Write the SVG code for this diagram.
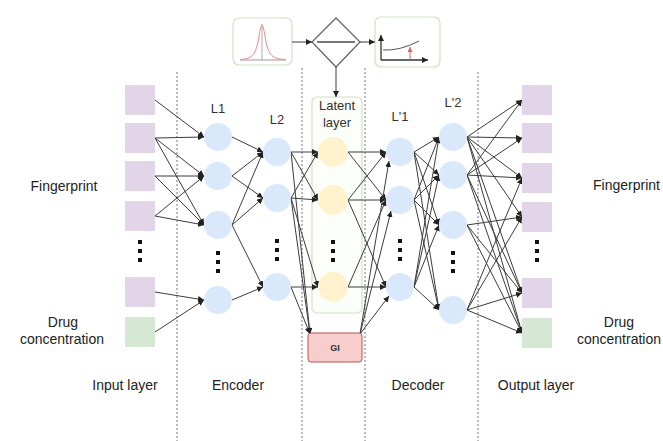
<svg xmlns="http://www.w3.org/2000/svg" width="663" height="441" viewBox="0 0 663 441">
  <style>
    .lbl { font-family: "Liberation Sans", Arial, sans-serif; font-size: 14px; fill: #222; }
    .sm { font-family: "Liberation Sans", Arial, sans-serif; font-size: 13px; fill: #333; }
    .sep { stroke: #777; stroke-width: 1; stroke-dasharray: 2 2; fill: none; }
    .fp { fill: #e1d5e7; }
    .dc { fill: #d5e8d4; }
    .enc { fill: #dae8fc; }
    .lat { fill: #fff2cc; }
    .dot { fill: #111; }
    .frame { fill: #fff; stroke: #cfe2c4; stroke-width: 1.2; }
    #connectors line, #connectors path { stroke: #3c3c3c; stroke-width: 1; fill: none; marker-end: url(#arr); }
  </style>
  <defs>
    <marker id="arr" markerUnits="userSpaceOnUse" markerWidth="6" markerHeight="6" refX="6" refY="3" orient="auto">
      <path d="M0,0 L6,3 L0,6 z" fill="#222"/>
    </marker>
    <marker id="arrR" markerUnits="userSpaceOnUse" markerWidth="5" markerHeight="5" refX="5" refY="2.5" orient="auto">
      <path d="M0,0 L5,2.5 L0,5 z" fill="#e06060"/>
    </marker>
  </defs>

  <rect width="663" height="441" fill="#fff"/>

  <!-- column separators -->
  <g id="separators">
    <line class="sep" x1="177" y1="72" x2="177" y2="441"/>
    <line class="sep" x1="302" y1="68" x2="302" y2="441"/>
    <line class="sep" x1="365" y1="68" x2="365" y2="441"/>
    <line class="sep" x1="478" y1="72" x2="478" y2="441"/>
  </g>

  <!-- sampling block -->
  <g id="prior">
    <rect class="frame" x="233" y="18" width="59" height="47" rx="6"/>
    <line x1="240" y1="60" x2="286" y2="60" stroke="#999" stroke-width="1"/>
    <line x1="262" y1="24" x2="262" y2="60" stroke="#999" stroke-width="0.8"/>
    <path d="M240,59.5 C252,59 255,55 258,42 C260,30 261,25 262,25 C263,25 264,30 266,42 C269,55 272,59 285,59.5" fill="none" stroke="#ea8a8a" stroke-width="1"/>
  </g>
  <g id="sampler">
    <polygon points="336,18 360,42 336,67 312,42" fill="#fff" stroke="#666" stroke-width="1.3"/>
    <line x1="317" y1="42" x2="355" y2="42" stroke="#777" stroke-width="2"/>
  </g>
  <g id="loss">
    <rect class="frame" x="375" y="17" width="65" height="50" rx="6"/>
    <line x1="381" y1="60" x2="381" y2="35" stroke="#333" stroke-width="1.3" marker-end="url(#arr)"/>
    <line x1="381" y1="60" x2="428" y2="60" stroke="#333" stroke-width="1.3" marker-end="url(#arr)"/>
    <path d="M383,50 Q400,51 419,41" fill="none" stroke="#555" stroke-width="1"/>
    <line x1="410" y1="60" x2="410" y2="47" stroke="#e06060" stroke-width="1" marker-end="url(#arrR)"/>
  </g>

  <!-- latent layer frame -->
  <g id="latent-frame">
    <rect x="312" y="97" width="50" height="216" rx="5" fill="#fcfefa" stroke="#cfe2c4" stroke-width="1.2"/>
    <text class="sm" x="337" y="110" text-anchor="middle">Latent</text>
    <text class="sm" x="337" y="127" text-anchor="middle">layer</text>
  </g>

  <!-- connectors -->
  <g id="connectors">
    <line x1="292" y1="42" x2="312" y2="42"/>
    <line x1="360" y1="42" x2="375" y2="42"/>
    <line x1="336" y1="67" x2="336" y2="97"/>
    <!-- input to L1 -->
    <line x1="155" y1="100" x2="204" y2="137"/>
    <line x1="155" y1="138" x2="204" y2="137"/>
    <line x1="155" y1="138" x2="204" y2="176"/>
    <line x1="155" y1="138" x2="204" y2="225"/>
    <line x1="155" y1="176" x2="204" y2="176"/>
    <line x1="155" y1="176" x2="204" y2="225"/>
    <line x1="155" y1="216" x2="204" y2="176"/>
    <line x1="155" y1="216" x2="204" y2="225"/>
    <line x1="155" y1="292" x2="204" y2="300"/>
    <line x1="155" y1="332" x2="204" y2="300"/>
    <!-- L1 to L2 -->
    <line x1="232" y1="137" x2="263" y2="152"/>
    <line x1="232" y1="176" x2="263" y2="152"/>
    <line x1="232" y1="176" x2="263" y2="198"/>
    <line x1="232" y1="225" x2="263" y2="152"/>
    <line x1="232" y1="225" x2="263" y2="198"/>
    <line x1="232" y1="225" x2="263" y2="287"/>
    <line x1="232" y1="300" x2="263" y2="287"/>
    <!-- L2 to latent -->
    <line x1="291" y1="152" x2="318" y2="152"/>
    <line x1="291" y1="152" x2="318" y2="200"/>
    <line x1="291" y1="198" x2="318" y2="152"/>
    <line x1="291" y1="198" x2="318" y2="200"/>
    <line x1="291" y1="198" x2="318" y2="287"/>
    <line x1="291" y1="287" x2="318" y2="287"/>
    <!-- L2 to GI -->
    <line x1="291" y1="152" x2="310" y2="334"/>
    <line x1="291" y1="198" x2="310" y2="334"/>
    <line x1="291" y1="287" x2="310" y2="334"/>
    <!-- latent to L'1 -->
    <line x1="348" y1="152" x2="386" y2="152"/>
    <line x1="348" y1="152" x2="386" y2="200"/>
    <line x1="348" y1="200" x2="386" y2="152"/>
    <line x1="348" y1="200" x2="386" y2="200"/>
    <line x1="348" y1="200" x2="386" y2="287"/>
    <line x1="348" y1="287" x2="386" y2="200"/>
    <line x1="348" y1="287" x2="386" y2="287"/>
    <!-- GI to L'1 -->
    <line x1="360" y1="334" x2="389" y2="161"/>
    <line x1="360" y1="334" x2="391" y2="211"/>
    <line x1="360" y1="334" x2="389" y2="296"/>
    <!-- L'1 to L'2 -->
    <line x1="414" y1="152" x2="439" y2="137"/>
    <line x1="414" y1="152" x2="439" y2="175"/>
    <line x1="414" y1="152" x2="439" y2="225"/>
    <line x1="414" y1="152" x2="439" y2="310"/>
    <line x1="414" y1="200" x2="439" y2="137"/>
    <line x1="414" y1="200" x2="439" y2="175"/>
    <line x1="414" y1="200" x2="439" y2="225"/>
    <line x1="414" y1="200" x2="439" y2="310"/>
    <line x1="414" y1="287" x2="439" y2="137"/>
    <line x1="414" y1="287" x2="439" y2="175"/>
    <line x1="414" y1="287" x2="439" y2="225"/>
    <line x1="414" y1="287" x2="439" y2="310"/>
    <!-- L'2 to output -->
    <line x1="467" y1="137" x2="522" y2="100"/>
    <line x1="467" y1="137" x2="522" y2="138"/>
    <line x1="467" y1="137" x2="522" y2="178"/>
    <line x1="467" y1="137" x2="522" y2="217"/>
    <line x1="467" y1="137" x2="522" y2="293"/>
    <line x1="467" y1="137" x2="522" y2="333"/>
    <line x1="467" y1="175" x2="522" y2="100"/>
    <line x1="467" y1="175" x2="522" y2="138"/>
    <line x1="467" y1="175" x2="522" y2="178"/>
    <line x1="467" y1="175" x2="522" y2="293"/>
    <line x1="467" y1="175" x2="522" y2="333"/>
    <line x1="467" y1="225" x2="522" y2="217"/>
    <line x1="467" y1="225" x2="522" y2="293"/>
    <line x1="467" y1="225" x2="522" y2="333"/>
    <line x1="467" y1="310" x2="522" y2="178"/>
    <line x1="467" y1="310" x2="522" y2="217"/>
    <line x1="467" y1="310" x2="522" y2="293"/>
    <line x1="467" y1="310" x2="522" y2="333"/>
  </g>

  <!-- input layer -->
  <g id="in1"><rect class="fp" x="125" y="85" width="30" height="30"/></g>
  <g id="in2"><rect class="fp" x="125" y="123" width="30" height="30"/></g>
  <g id="in3"><rect class="fp" x="125" y="161" width="30" height="30"/></g>
  <g id="in4"><rect class="fp" x="125" y="201" width="30" height="30"/></g>
  <g id="in-dots"><rect class="dot" x="138" y="240" width="4" height="4"/><rect class="dot" x="138" y="249" width="4" height="4"/><rect class="dot" x="138" y="258" width="4" height="4"/></g>
  <g id="in5"><rect class="fp" x="125" y="277" width="30" height="30"/></g>
  <g id="in6"><rect class="dc" x="125" y="317" width="30" height="30"/></g>

  <!-- encoder L1 -->
  <g id="l1a"><circle class="enc" cx="218" cy="137" r="14"/></g>
  <g id="l1b"><circle class="enc" cx="218" cy="176" r="14"/></g>
  <g id="l1c"><circle class="enc" cx="218" cy="225" r="14"/></g>
  <g id="l1-dots"><rect class="dot" x="216" y="251" width="4" height="4"/><rect class="dot" x="216" y="260" width="4" height="4"/><rect class="dot" x="216" y="269" width="4" height="4"/></g>
  <g id="l1d"><circle class="enc" cx="218" cy="300" r="14"/></g>

  <!-- encoder L2 -->
  <g id="l2a"><circle class="enc" cx="277" cy="152" r="14"/></g>
  <g id="l2b"><circle class="enc" cx="277" cy="198" r="14"/></g>
  <g id="l2-dots"><rect class="dot" x="275" y="239" width="4" height="4"/><rect class="dot" x="275" y="248" width="4" height="4"/><rect class="dot" x="275" y="257" width="4" height="4"/></g>
  <g id="l2c"><circle class="enc" cx="277" cy="287" r="14"/></g>

  <!-- latent -->
  <g id="za"><circle class="lat" cx="333" cy="152" r="15"/></g>
  <g id="zb"><circle class="lat" cx="333" cy="200" r="15"/></g>
  <g id="z-dots"><rect class="dot" x="331" y="240" width="4" height="4"/><rect class="dot" x="331" y="249" width="4" height="4"/><rect class="dot" x="331" y="258" width="4" height="4"/></g>
  <g id="zc"><circle class="lat" cx="333" cy="287" r="15"/></g>

  <g id="gi">
    <rect x="308" y="333" width="54" height="29" rx="3" fill="#f8cecc" stroke="#b85450" stroke-width="1"/>
    <text x="335" y="351" text-anchor="middle" font-family="Liberation Sans, Arial, sans-serif" font-size="9" font-weight="bold" fill="#333">GI</text>
  </g>

  <!-- decoder L'1 -->
  <g id="d1a"><circle class="enc" cx="400" cy="152" r="14"/></g>
  <g id="d1b"><circle class="enc" cx="400" cy="200" r="14"/></g>
  <g id="d1-dots"><rect class="dot" x="398" y="239" width="4" height="4"/><rect class="dot" x="398" y="248" width="4" height="4"/><rect class="dot" x="398" y="257" width="4" height="4"/></g>
  <g id="d1c"><circle class="enc" cx="400" cy="287" r="14"/></g>

  <!-- decoder L'2 -->
  <g id="d2a"><circle class="enc" cx="453" cy="137" r="14"/></g>
  <g id="d2b"><circle class="enc" cx="453" cy="175" r="14"/></g>
  <g id="d2c"><circle class="enc" cx="453" cy="225" r="14"/></g>
  <g id="d2-dots"><rect class="dot" x="451" y="251" width="4" height="4"/><rect class="dot" x="451" y="260" width="4" height="4"/><rect class="dot" x="451" y="269" width="4" height="4"/></g>
  <g id="d2d"><circle class="enc" cx="453" cy="310" r="14"/></g>

  <!-- output layer -->
  <g id="out1"><rect class="fp" x="522" y="85" width="30" height="30"/></g>
  <g id="out2"><rect class="fp" x="522" y="123" width="30" height="30"/></g>
  <g id="out3"><rect class="fp" x="522" y="163" width="30" height="30"/></g>
  <g id="out4"><rect class="fp" x="522" y="202" width="30" height="30"/></g>
  <g id="out-dots"><rect class="dot" x="535" y="240" width="4" height="4"/><rect class="dot" x="535" y="249" width="4" height="4"/><rect class="dot" x="535" y="258" width="4" height="4"/></g>
  <g id="out5"><rect class="fp" x="522" y="278" width="30" height="30"/></g>
  <g id="out6"><rect class="dc" x="522" y="318" width="30" height="30"/></g>

  <!-- layer titles -->
  <g id="titles">
    <text class="sm" x="218" y="113" text-anchor="middle">L1</text>
    <text class="sm" x="277" y="124" text-anchor="middle">L2</text>
    <text class="sm" x="400" y="121" text-anchor="middle">L'1</text>
    <text class="sm" x="453" y="107" text-anchor="middle">L'2</text>
  </g>

  <!-- side and bottom labels -->
  <g id="labels">
    <text class="lbl" x="64" y="191" text-anchor="middle">Fingerprint</text>
    <text class="lbl" x="63" y="327" text-anchor="middle">Drug</text>
    <text class="lbl" x="62" y="344" text-anchor="middle">concentration</text>
    <text class="lbl" x="593" y="190">Fingerprint</text>
    <text class="lbl" x="619" y="327" text-anchor="middle">Drug</text>
    <text class="lbl" x="619" y="344" text-anchor="middle">concentration</text>
    <text class="lbl" x="125" y="390" text-anchor="middle">Input layer</text>
    <text class="lbl" x="238" y="390" text-anchor="middle">Encoder</text>
    <text class="lbl" x="418" y="390" text-anchor="middle">Decoder</text>
    <text class="lbl" x="536" y="390" text-anchor="middle">Output layer</text>
  </g>
</svg>
